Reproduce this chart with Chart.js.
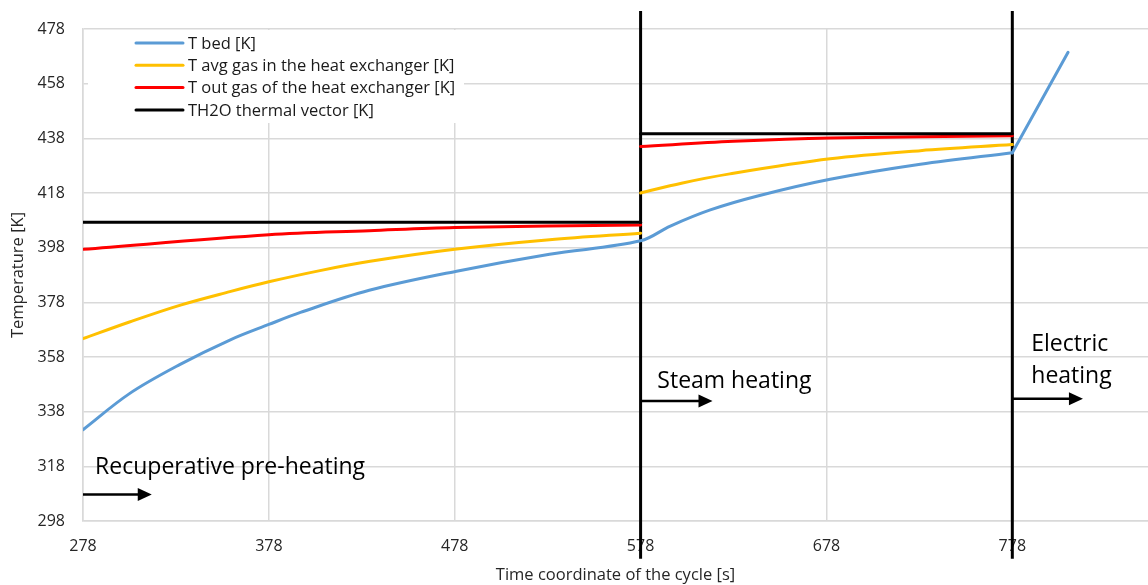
<!DOCTYPE html>
<html lang="en">
<head>
  <meta charset="UTF-8">
  <title>Temperature during the cycle</title>
  <style>
    body {
      margin: 0;
      background-color: #ffffff;
    }

    #chart-container {
      width: 1148px;
      height: 585px;
    }
  </style>
</head>
<body>

  <div id="chart-container">
    <canvas id="tempChart" width="1148" height="585"></canvas>
  </div>

  <script src="https://cdn.jsdelivr.net/npm/chart.js"></script>

  <script>
    // Values (time in s, temperature in K)
    const xTicks = [278, 378, 478, 578, 678, 778];

    // T bed
    const bedX = [278, 303, 330, 357, 378, 395, 432, 479, 529, 578, 594, 615.5, 641, 680, 728.5, 778];
    const bedY = [331.4, 344.6, 355.2, 364.2, 369.9, 374.3, 382.4, 389.4, 395.6, 400.5, 405.9, 411.8, 416.9, 423, 428.5, 432.7];
    const bedElecX = [778, 808];
    const bedElecY = [432.7, 469.5];

    // T avg gas in the heat exchanger
    const avgX1 = [278, 303, 330, 357, 378, 405.5, 432.5, 478, 529, 578];
    const avgY1 = [364.7, 370.8, 376.9, 381.9, 385.5, 389.6, 393, 397.4, 400.9, 403.3];
    const avgX2 = [578, 600, 626, 680, 728.5, 778];
    const avgY2 = [418, 421.6, 425, 430.5, 433.5, 435.7];

    // T out gas of the heat exchanger
    const outX1 = [278, 378, 432, 478, 578];
    const outY1 = [397.4, 402.7, 404.2, 405.4, 406.3];
    const outX2 = [578, 628, 680, 778];
    const outY2 = [435, 436.9, 438.1, 438.9];

    // TH2O thermal vector
    const waterX1 = [278, 578];
    const waterY1 = [407.3, 407.3];
    const waterX2 = [578, 778];
    const waterY2 = [439.7, 439.7];

    // phase boundaries
    const phaseX = [578, 778];
    const phaseY = [284.2, 484.6];

    const seriesNames = [
      'T bed [K]',
      'T avg gas in the heat exchanger [K]',
      'T out gas of the heat exchanger [K]',
      'TH2O thermal vector [K]'
    ];
    const seriesColors = ['#5B9BD5', '#FFC000', '#FF0000', '#000000'];

    const FONT = '"Open Sans", "Liberation Sans", sans-serif';

    function zip(xs, ys) {
      return xs.map((x, i) => ({ x: x, y: ys[i] }));
    }

    function curve(xs, ys, color, smooth) {
      return {
        data: zip(xs, ys),
        borderColor: color,
        borderWidth: 3,
        borderCapStyle: 'round',
        pointRadius: 0,
        fill: false,
        tension: smooth ? 0.35 : 0
      };
    }

    const datasets = [
      curve(waterX1, waterY1, seriesColors[3], false),
      curve(waterX2, waterY2, seriesColors[3], false),
      curve(outX1, outY1, seriesColors[2], true),
      curve(outX2, outY2, seriesColors[2], true),
      curve(avgX1, avgY1, seriesColors[1], true),
      curve(avgX2, avgY2, seriesColors[1], true),
      curve(bedX, bedY, seriesColors[0], true),
      curve(bedElecX, bedElecY, seriesColors[0], false)
    ];

    // vertical lines that mark the phases, drawn past the axes
    phaseX.forEach(x => {
      const ds = curve([x, x], phaseY, '#000000', false);
      ds.borderCapStyle = 'butt';
      ds.clip = false;
      datasets.push(ds);
    });

    // Legend box inside the plot, plus phase labels with arrows
    const overlayPlugin = {
      id: 'overlay',
      beforeDatasetsDraw(chart) {
        const ctx = chart.ctx;
        const area = chart.chartArea;
        const left = area.left;
        const top = area.top;

        ctx.save();
        ctx.fillStyle = '#ffffff';
        ctx.fillRect(left + 5, top + 1, 376, 93);

        ctx.font = '16.5px ' + FONT;
        ctx.textBaseline = 'middle';
        seriesNames.forEach((name, i) => {
          const y = top + 14 + i * 22.3;
          ctx.strokeStyle = seriesColors[i];
          ctx.lineWidth = 3;
          ctx.lineCap = 'round';
          ctx.beginPath();
          ctx.moveTo(left + 53, y);
          ctx.lineTo(left + 100, y);
          ctx.stroke();
          ctx.fillStyle = '#1a1a1a';
          ctx.fillText(name, left + 105, y + 1);
        });
        ctx.restore();
      },
      afterDatasetsDraw(chart) {
        const ctx = chart.ctx;
        const xs = chart.scales.x;
        const ys = chart.scales.y;

        const labels = [
          { lines: ['Recuperative pre-heating'], x: 284.5, y: 317.7 },
          { lines: ['Steam heating'], x: 587, y: 348.9 },
          { lines: ['Electric', 'heating'], x: 788.2, y: 362.5 }
        ];
        const arrows = [
          { x0: 278, x1: 315, y: 307.7 },
          { x0: 578, x1: 616.7, y: 341.9 },
          { x0: 778, x1: 816, y: 342.7 }
        ];

        ctx.save();
        ctx.fillStyle = '#000000';
        ctx.font = '23px ' + FONT;
        ctx.textBaseline = 'middle';
        labels.forEach(l => {
          const px = xs.getPixelForValue(l.x);
          const py = ys.getPixelForValue(l.y);
          l.lines.forEach((t, i) => ctx.fillText(t, px, py + i * 32));
        });

        arrows.forEach(a => {
          const px0 = xs.getPixelForValue(a.x0);
          const px1 = xs.getPixelForValue(a.x1);
          const py = ys.getPixelForValue(a.y);
          ctx.strokeStyle = '#000000';
          ctx.lineWidth = 2.5;
          ctx.beginPath();
          ctx.moveTo(px0, py);
          ctx.lineTo(px1 - 12, py);
          ctx.stroke();
          ctx.beginPath();
          ctx.moveTo(px1, py);
          ctx.lineTo(px1 - 14, py - 6.5);
          ctx.lineTo(px1 - 14, py + 6.5);
          ctx.closePath();
          ctx.fill();
        });
        ctx.restore();
      }
    };

    const ctx = document.getElementById('tempChart').getContext('2d');
    new Chart(ctx, {
      type: 'line',
      data: { datasets: datasets },
      plugins: [overlayPlugin],
      options: {
        responsive: false,
        animation: false,
        layout: {
          padding: { top: 29, right: 0, left: 0, bottom: 0 }
        },
        plugins: {
          legend: { display: false },
          tooltip: { enabled: false }
        },
        scales: {
          x: {
            type: 'linear',
            min: 278,
            max: 851,
            afterBuildTicks: axis => {
              axis.ticks = xTicks.map(v => ({ value: v }));
            },
            afterFit: axis => {
              axis.height = 64;
            },
            grid: {
              color: '#d9d9d9',
              lineWidth: 1.5,
              drawTicks: false
            },
            border: { color: '#d9d9d9', width: 1.5 },
            ticks: {
              padding: 16,
              color: '#262626',
              font: { family: FONT, size: 16 },
              maxRotation: 0
            },
            title: {
              display: true,
              text: 'Time coordinate of the cycle [s]',
              color: '#262626',
              font: { family: FONT, size: 16.5 },
              padding: { top: 0, bottom: 0 }
            }
          },
          y: {
            min: 298,
            max: 478,
            ticks: {
              stepSize: 20,
              padding: 18,
              color: '#262626',
              font: { family: FONT, size: 16 }
            },
            afterFit: axis => {
              axis.width = 83;
            },
            grid: {
              color: '#d9d9d9',
              lineWidth: 1.5,
              drawTicks: false
            },
            border: { color: '#d9d9d9', width: 1.5 },
            title: {
              display: true,
              text: 'Temperature [K]',
              color: '#262626',
              font: { family: FONT, size: 16.5 },
              padding: { top: 8, bottom: 0 }
            }
          }
        }
      }
    });
  </script>

</body>
</html>
